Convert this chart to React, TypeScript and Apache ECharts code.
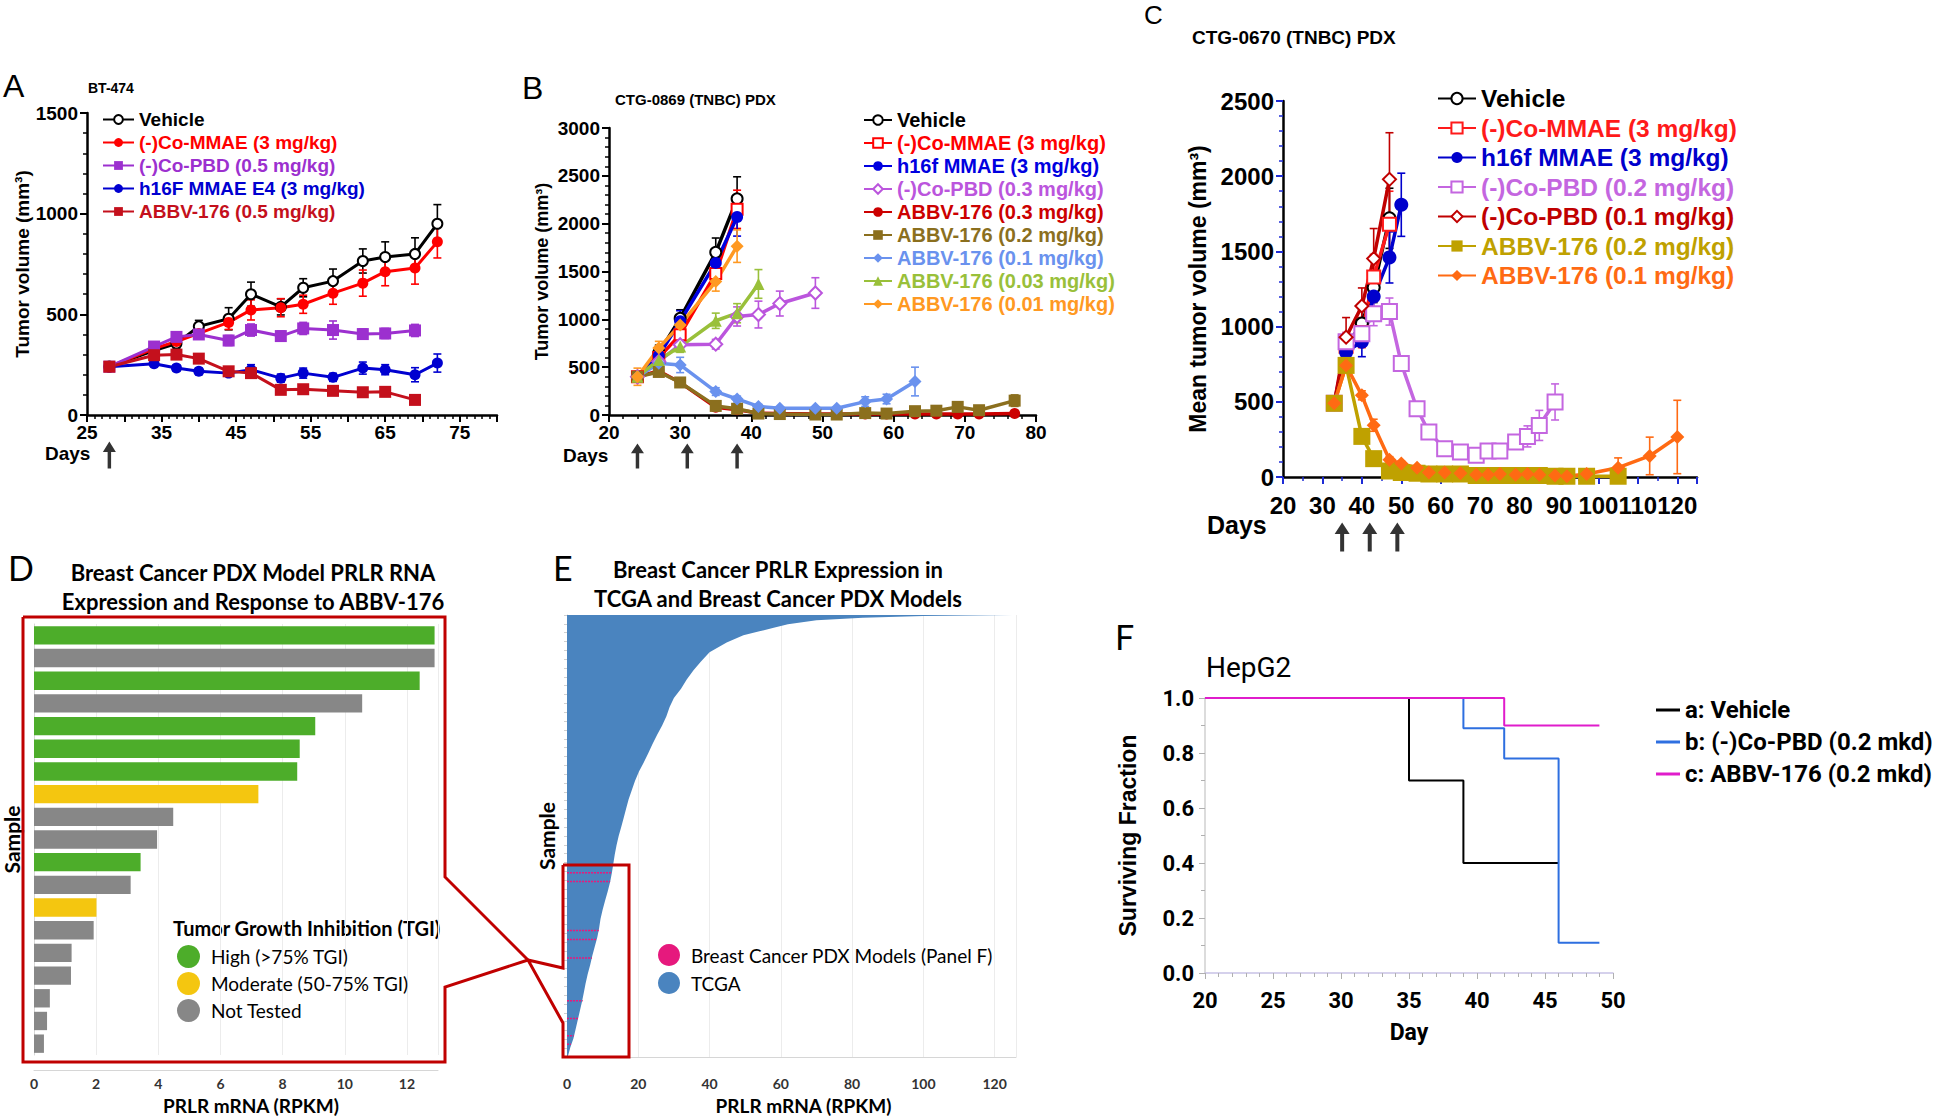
import React, { useEffect, useRef } from "react";
import * as echarts from "echarts";

const ARIAL = '"Liberation Sans", Arial, Helvetica, sans-serif';
const CALIBRI = 'Lato, "Open Sans", sans-serif';
const SEGOE = 'Roboto, "Noto Sans", sans-serif';

// ---------------- Panel A : BT-474 ----------------
const aDays = [28, 34, 37, 40, 44, 47, 51, 54, 58, 62, 65, 69, 72];
const aVehicle = [240, 320, 355, 440, 478, 600, 537, 632, 665, 765, 785, 800, 950];
const aVehicleErr = [10, 20, 25, 30, 55, 60, 40, 45, 60, 60, 75, 80, 95];
const aCoMMAE = [240, 330, 365, 405, 460, 522, 533, 550, 605, 655, 712, 730, 860];
const aCoMMAEErr = [10, 15, 20, 25, 35, 50, 45, 45, 55, 65, 70, 80, 80];
const aCoPBD = [240, 340, 388, 400, 370, 422, 392, 430, 422, 402, 405, 420];
const aCoPBDErr = [10, 15, 25, 20, 25, 30, 25, 30, 45, 25, 25, 30];
const aH16F = [240, 255, 233, 217, 208, 225, 183, 208, 187, 233, 225, 200, 258];
const aH16FErr = [10, 10, 15, 15, 15, 25, 20, 25, 20, 30, 25, 35, 45];
const aABBV = [240, 297, 300, 280, 217, 208, 125, 128, 120, 113, 115, 75];
const aABBVErr = [10, 15, 20, 20, 20, 20, 15, 15, 10, 10, 10, 10];
const aDoseDays = [28];

// ---------------- Panel B : CTG-0869 ----------------
const bDays = [24, 27, 30, 35, 38, 41, 44, 49, 52, 56, 59, 63, 66, 69, 72, 77];
const bVehicle = [400, 650, 1010, 1700, 2260];
const bVehicleErr = [50, 80, 90, 150, 230];
const bCoMMAE = [400, 600, 840, 1480, 2150];
const bCoMMAEErr = [50, 60, 70, 100, 200];
const bH16f = [400, 620, 980, 1590, 2070];
const bH16fErr = [50, 60, 110, 120, 200];
const bCoPBD = [400, 560, 735, 740, 1030, 1050, 1165, 1275];
const bCoPBDErr = [50, 50, 40, 50, 100, 140, 130, 160];
const bA03 = [400, 460, 340, 80, 55, 20, 15, 10, 10, 10, 10, 10, 10, 10, 10, 15];
const bA03Err = [50, 30, 30, 20, 15, 10, 10, 5, 5, 5, 5, 5, 5, 5, 5, 10];
const bA02 = [400, 450, 340, 95, 65, 15, 10, 5, 5, 20, 15, 40, 45, 85, 50, 150];
const bA02Err = [50, 30, 30, 20, 15, 10, 10, 5, 5, 10, 10, 20, 20, 30, 20, 60];
const bA01 = [400, 540, 523, 245, 167, 90, 70, 70, 70, 140, 167, 350];
const bA01Err = [50, 60, 80, 40, 30, 20, 15, 15, 15, 50, 50, 150];
const bA003 = [400, 575, 715, 985, 1064, 1370];
const bA003Err = [50, 60, 60, 80, 100, 150];
const bA001 = [400, 700, 942, 1395, 1765];
const bA001Err = [90, 70, 80, 100, 170];
const bDoseDays = [24, 31, 38];

// ---------------- Panel C : CTG-0670 ----------------
const cDays = [33, 36, 40, 43, 47, 50, 54, 57, 61, 65, 69, 72, 75, 79, 82, 85, 89, 92, 97, 105, 113, 120];
const cVehicle = [490, 870, 1020, 1260, 1720];
const cVehicleErr = [30, 80, 90, 100, 200];
const cCoMMAE = [490, 870, 960, 1330, 1680];
const cCoMMAEErr = [30, 90, 100, 150, 220];
const cH16f = [490, 830, 900, 1200, 1460, 1810];
const cH16fErr = [30, 60, 100, 100, 170, 210];
const cCoPBD02 = [490, 900, 953, 1086, 1100, 754, 454, 299, 188, 166, 144, 173, 173, 233, 270, 343, 499];
const cCoPBD02Err = [30, 60, 60, 80, 90, 50, 40, 30, 20, 15, 20, 20, 20, 40, 70, 100, 120];
const cCoPBD01 = [490, 930, 1137, 1452, 1979];
const cCoPBD01Err = [30, 130, 120, 200, 310];
const cA02 = [490, 742, 270, 122, 40, 30, 25, 20, 20, 20, 10, 10, 10, 10, 10, 10, 5, 5, 5, 5];
const cA02Err = [30, 30, 20, 15, 10, 5, 5, 5, 5, 5, 5, 5, 5, 5, 5, 5, 5, 5, 5, 5];
const cA01 = [490, 742, 543, 344, 115, 89, 62, 30, 30, 25, 15, 15, 20, 15, 20, 15, 10, 5, 20, 62, 140, 266];
const cA01Err = [30, 30, 30, 40, 20, 15, 10, 10, 10, 10, 5, 5, 5, 5, 5, 5, 5, 5, 10, 65, 125, 244];
const cDoseDays = [35, 42, 49];

// ---------------- Panel D : PDX PRLR RNA ----------------
const dSamples = ["S1", "S2", "S3", "S4", "S5", "S6", "S7", "S8", "S9", "S10", "S11", "S12", "S13", "S14", "S15", "S16", "S17", "S18", "S19"];
const dValues = [12.89, 12.89, 12.41, 10.56, 9.05, 8.55, 8.47, 7.22, 4.48, 3.96, 3.43, 3.11, 2.01, 1.92, 1.21, 1.19, 0.51, 0.42, 0.32];
const dTGI = ["High", "Not Tested", "High", "Not Tested", "High", "High", "High", "Moderate", "Not Tested", "Not Tested", "High", "Not Tested", "Moderate", "Not Tested", "Not Tested", "Not Tested", "Not Tested", "Not Tested", "Not Tested"];
const dGroups = ["High", "Moderate", "Not Tested"];
const dGroupLabels = ["High (>75% TGI)", "Moderate (50-75% TGI)", "Not Tested"];
const dGroupColors = ["#4DAD2A", "#F4C610", "#878787"];

// ---------------- Panel E : TCGA distribution (sample rank % from bottom, PRLR value) ----------------
const eRank = [0, 2.1, 4.2, 6.2, 8.3, 10.4, 12.5, 14.5, 16.6, 18.7, 20.8, 22.9, 25.0, 27.1, 29.1, 31.2, 33.3, 35.4, 37.4, 39.6, 41.7, 43.7, 45.8, 47.9, 50.0, 52.0, 54.1, 56.2, 58.3, 60.4, 62.5, 64.6, 66.6, 68.7, 70.8, 72.9, 75.0, 77.1, 79.2, 81.2, 83.3, 85.4, 87.5, 89.5, 91.6, 93.8, 95.4, 96.3, 97.1, 97.9, 98.8, 99.4, 99.75, 100];
const eValue = [0.2, 0.9, 1.8, 2.4, 3.0, 3.6, 4.2, 4.7, 5.2, 5.8, 6.5, 7.1, 7.8, 8.5, 9.0, 9.4, 10.0, 10.7, 11.4, 12.1, 12.6, 13.0, 13.4, 13.9, 14.5, 15.2, 15.9, 16.6, 17.3, 18.2, 19.1, 20.2, 21.5, 22.8, 24.0, 25.3, 26.7, 27.9, 28.8, 30.0, 32.0, 33.6, 35.5, 37.6, 40.0, 44.8, 49.5, 54.0, 58.0, 62.0, 70.0, 83.0, 100.0, 125.0];
const ePdxRank = [41.7, 39.7, 28.6, 26.6, 22.4, 12.7, 8.7, 4.8, 2.9];
const ePdxValue = [12.6, 12.1, 8.9, 8.4, 7.0, 4.4, 3.1, 1.9, 1.1];

// ---------------- Panel F : HepG2 survival ----------------
const fVehicleDays = [20, 35, 39, 46];
const fVehicle = [1, 0.7, 0.4, 0.4];
const fCoPBDDays = [20, 39, 42, 46, 49];
const fCoPBD = [1, 0.89, 0.78, 0.11, 0.11];
const fABBVDays = [20, 42, 49];
const fABBV = [1, 0.9, 0.9];

const ARROW = "path://M6,0 L12,11 L7.6,11 L7.6,28 L4.4,28 L4.4,11 L0,11 Z";

type Spec = { label: string; x: number[]; y: number[]; e: number[]; color: string; symbol: string; size: number };

const aSpecs: Spec[] = [
  { label: "Vehicle", x: aDays, y: aVehicle, e: aVehicleErr, color: "#000000", symbol: "emptyCircle", size: 10 },
  { label: "(-)Co-MMAE (3 mg/kg)", x: aDays, y: aCoMMAE, e: aCoMMAEErr, color: "#FF0000", symbol: "circle", size: 11 },
  { label: "(-)Co-PBD (0.5 mg/kg)", x: aDays, y: aCoPBD, e: aCoPBDErr, color: "#9C30CF", symbol: "rect", size: 12 },
  { label: "h16F MMAE E4 (3 mg/kg)", x: aDays, y: aH16F, e: aH16FErr, color: "#0000D0", symbol: "circle", size: 11 },
  { label: "ABBV-176 (0.5 mg/kg)", x: aDays, y: aABBV, e: aABBVErr, color: "#C4101C", symbol: "rect", size: 12 },
];
const bSpecs: Spec[] = [
  { label: "Vehicle", x: bDays, y: bVehicle, e: bVehicleErr, color: "#000000", symbol: "emptyCircle", size: 11 },
  { label: "(-)Co-MMAE (3 mg/kg)", x: bDays, y: bCoMMAE, e: bCoMMAEErr, color: "#FF0000", symbol: "emptyRect", size: 11 },
  { label: "h16f MMAE (3 mg/kg)", x: bDays, y: bH16f, e: bH16fErr, color: "#0000E0", symbol: "circle", size: 12 },
  { label: "(-)Co-PBD (0.3 mg/kg)", x: bDays, y: bCoPBD, e: bCoPBDErr, color: "#BB55DD", symbol: "emptyDiamond", size: 13 },
  { label: "ABBV-176 (0.3 mg/kg)", x: bDays, y: bA03, e: bA03Err, color: "#CC0000", symbol: "circle", size: 11 },
  { label: "ABBV-176 (0.2 mg/kg)", x: bDays, y: bA02, e: bA02Err, color: "#8B6F1E", symbol: "rect", size: 12 },
  { label: "ABBV-176 (0.1 mg/kg)", x: bDays, y: bA01, e: bA01Err, color: "#6A92EE", symbol: "diamond", size: 13 },
  { label: "ABBV-176 (0.03 mg/kg)", x: bDays, y: bA003, e: bA003Err, color: "#99C03A", symbol: "triangle", size: 12 },
  { label: "ABBV-176 (0.01 mg/kg)", x: bDays, y: bA001, e: bA001Err, color: "#FF9922", symbol: "diamond", size: 13 },
];
const cSpecs: Spec[] = [
  { label: "Vehicle", x: cDays, y: cVehicle, e: cVehicleErr, color: "#000000", symbol: "emptyCircle", size: 12 },
  { label: "(-)Co-MMAE (3 mg/kg)", x: cDays, y: cCoMMAE, e: cCoMMAEErr, color: "#FF1A1A", symbol: "emptyRect", size: 13 },
  { label: "h16f MMAE (3 mg/kg)", x: cDays, y: cH16f, e: cH16fErr, color: "#0000CC", symbol: "circle", size: 14 },
  { label: "(-)Co-PBD (0.2 mg/kg)", x: cDays, y: cCoPBD02, e: cCoPBD02Err, color: "#C466E0", symbol: "emptyRect", size: 15 },
  { label: "(-)Co-PBD (0.1 mg/kg)", x: cDays, y: cCoPBD01, e: cCoPBD01Err, color: "#C00000", symbol: "emptyDiamond", size: 13 },
  { label: "ABBV-176 (0.2 mg/kg)", x: cDays, y: cA02, e: cA02Err, color: "#BFA100", symbol: "rect", size: 17 },
  { label: "ABBV-176 (0.1 mg/kg)", x: cDays, y: cA01, e: cA01Err, color: "#FF6A13", symbol: "diamond", size: 14 },
];

const strip = (n: string) => (n.indexOf("|") >= 0 ? n.split("|")[1] : n);
const plain = (v: number) => String(v);

function curveSeries(panel: string, s: Spec, idx: number, lw: number) {
  return {
    type: "line",
    name: panel + "|" + s.label,
    xAxisIndex: idx,
    yAxisIndex: idx,
    data: s.y.map((v, i) => [s.x[i], v]),
    symbol: s.symbol,
    symbolSize: s.size,
    showAllSymbol: true,
    lineStyle: { color: s.color, width: lw },
    itemStyle: { color: s.color, borderColor: s.color, borderWidth: s.symbol.indexOf("empty") === 0 ? 2 : 0 },
    z: 3,
    silent: true,
  };
}

function errSeries(s: Spec, idx: number, cap: number) {
  return {
    type: "custom",
    xAxisIndex: idx,
    yAxisIndex: idx,
    silent: true,
    z: 2,
    encode: { x: 0, y: 1 },
    data: s.y.map((v, i) => [s.x[i], v, s.e[i]]),
    renderItem: (_p: any, api: any) => {
      const x = api.value(0);
      const y = api.value(1);
      const e = api.value(2);
      const p1 = api.coord([x, y + e]);
      const p2 = api.coord([x, Math.max(0, y - e)]);
      const st = { stroke: s.color, lineWidth: 1.6 };
      return {
        type: "group",
        children: [
          { type: "line", shape: { x1: p1[0], y1: p1[1], x2: p2[0], y2: p2[1] }, style: st },
          { type: "line", shape: { x1: p1[0] - cap, y1: p1[1], x2: p1[0] + cap, y2: p1[1] }, style: st },
          { type: "line", shape: { x1: p2[0] - cap, y1: p2[1], x2: p2[0] + cap, y2: p2[1] }, style: st },
        ],
      };
    },
  };
}

function arrowSeries(days: number[], idx: number, size: number[], offset: number) {
  return {
    type: "scatter",
    xAxisIndex: idx,
    yAxisIndex: idx,
    data: days.map((d) => [d, 0]),
    symbol: ARROW,
    symbolSize: size,
    symbolOffset: [0, offset],
    itemStyle: { color: "#000" },
    clip: false,
    silent: true,
    z: 10,
  };
}

function gpX(gridIndex: number, min: number, max: number, interval: number, minor: number, fs: number, margin: number, fmt: any, tickColor = "#000") {
  return {
    gridIndex,
    type: "value",
    min,
    max,
    interval,
    axisLine: { show: true, onZero: false, lineStyle: { color: "#000", width: 2.5 } },
    axisTick: { show: true, length: 7, lineStyle: { color: tickColor, width: 2 } },
    minorTick: { show: true, splitNumber: minor, length: 4, lineStyle: { color: tickColor, width: 1.5 } },
    splitLine: { show: false },
    axisLabel: { fontSize: fs, fontWeight: "bold", fontFamily: ARIAL, color: "#000", margin, formatter: fmt },
  };
}

function gpY(gridIndex: number, max: number, interval: number, fs: number, name: string, nameFs: number, nameGap: number, tickColor = "#000") {
  return {
    gridIndex,
    type: "value",
    min: 0,
    max,
    interval,
    name,
    nameLocation: "middle",
    nameRotate: 90,
    nameGap,
    nameTextStyle: { fontSize: nameFs, fontWeight: "bold", fontFamily: ARIAL, color: "#000" },
    axisLine: { show: true, onZero: false, lineStyle: { color: "#000", width: 2.5 } },
    axisTick: { show: true, length: 7, lineStyle: { color: tickColor, width: 2 } },
    minorTick: { show: true, splitNumber: 5, length: 4, lineStyle: { color: tickColor, width: 1.5 } },
    splitLine: { show: false },
    axisLabel: { fontSize: fs, fontWeight: "bold", fontFamily: ARIAL, color: "#000", margin: 9, formatter: plain },
  };
}

function txt(text: string, x: number, y: number, size: number, weight: string, family: string, align = "left", color = "#000") {
  return {
    type: "text",
    x,
    y,
    silent: true,
    style: { text, fontSize: size, fontWeight: weight, fontFamily: family, fill: color, align, verticalAlign: "middle" },
  };
}

function gpLegend(panel: string, specs: Spec[], left: number, top: number, fs: number, gap: number, iw: number, ih: number) {
  return {
    orient: "vertical",
    left,
    top,
    padding: 0,
    itemGap: gap,
    itemWidth: iw,
    itemHeight: ih,
    selectedMode: false,
    formatter: strip,
    textStyle: { fontSize: fs, fontWeight: "bold", fontFamily: ARIAL },
    data: specs.map((s) => ({ name: panel + "|" + s.label, textStyle: { color: s.color } })),
  };
}

function buildOption() {
  const series: any[] = [];
  aSpecs.forEach((s) => series.push(errSeries(s, 0, 4)));
  aSpecs.forEach((s) => series.push(curveSeries("A", s, 0, 3)));
  series.push(arrowSeries(aDoseDays, 0, [13, 27], 40));
  bSpecs.forEach((s) => series.push(errSeries(s, 1, 4)));
  bSpecs.forEach((s) => series.push(curveSeries("B", s, 1, 3.5)));
  series.push(arrowSeries(bDoseDays, 1, [13, 25], 41));
  cSpecs.forEach((s) => series.push(errSeries(s, 2, 4)));
  cSpecs.forEach((s) => series.push(curveSeries("C", s, 2, 3.5)));
  series.push(arrowSeries(cDoseDays, 2, [15, 29], 60));

  // Panel D bars
  dGroups.forEach((g, gi) => {
    series.push({
      type: "bar",
      name: dGroupLabels[gi],
      xAxisIndex: 3,
      yAxisIndex: 3,
      data: dValues.map((v, i) => (dTGI[i] === g ? v : "-")),
      barGap: "-100%",
      barCategoryGap: "19%",
      itemStyle: { color: dGroupColors[gi] },
      silent: true,
    });
  });

  // Panel E: sorted TCGA distribution as filled polygon
  series.push({
    type: "custom",
    name: "TCGA",
    xAxisIndex: 4,
    yAxisIndex: 4,
    silent: true,
    z: 2,
    encode: { x: 0, y: 1 },
    itemStyle: { color: "#4A84BF" },
    data: eRank.map((r, i) => [eValue[i], r]),
    renderItem: (params: any, api: any) => {
      if (params.dataIndex !== 0) return null;
      const pts: number[][] = [api.coord([0, eRank[0]])];
      eRank.forEach((r, i) => pts.push(api.coord([eValue[i], r])));
      pts.push(api.coord([0, eRank[eRank.length - 1]]));
      return { type: "polygon", shape: { points: pts }, style: { fill: "#4A84BF" } };
    },
  });
  series.push({
    type: "custom",
    name: "Breast Cancer PDX Models (Panel F)",
    xAxisIndex: 4,
    yAxisIndex: 4,
    silent: true,
    z: 3,
    encode: { x: 0, y: 1 },
    itemStyle: { color: "#E6197D" },
    data: ePdxRank.map((r, i) => [ePdxValue[i], r]),
    renderItem: (_p: any, api: any) => {
      const p1 = api.coord([0, api.value(1)]);
      const p2 = api.coord([api.value(0), api.value(1)]);
      return {
        type: "line",
        shape: { x1: p1[0], y1: p1[1], x2: p2[0], y2: p2[1] },
        style: { stroke: "#E6197D", lineWidth: 1.5, lineDash: [2, 1] },
      };
    },
  });

  // Panel F
  const fSpecs = [
    { name: "a: Vehicle", x: fVehicleDays, y: fVehicle, color: "#000000" },
    { name: "b: (-)Co-PBD (0.2 mkd)", x: fCoPBDDays, y: fCoPBD, color: "#2E6FE0" },
    { name: "c: ABBV-176 (0.2 mkd)", x: fABBVDays, y: fABBV, color: "#E01CCB" },
  ];
  fSpecs.forEach((s) =>
    series.push({
      type: "line",
      name: s.name,
      xAxisIndex: 5,
      yAxisIndex: 5,
      step: "end",
      data: s.y.map((v, i) => [s.x[i], v]),
      symbol: "none",
      lineStyle: { color: s.color, width: 2 },
      itemStyle: { color: s.color },
      silent: true,
    })
  );

  const lightAxis = { show: true, lineStyle: { color: "#d6d6d6", width: 1 } };

  return {
    animation: false,
    backgroundColor: "#ffffff",
    grid: [
      { left: 87, top: 113, width: 410, height: 302 },
      { left: 609, top: 128, width: 427, height: 287 },
      { left: 1283, top: 101, width: 414, height: 376 },
      { left: 32, top: 624, width: 406, height: 432 },
      { left: 567, top: 615, width: 449, height: 443 },
      { left: 1205, top: 698, width: 408, height: 275 },
    ],
    xAxis: [
      gpX(0, 25, 80, 5, 5, 19, 8, (v: number) => ((v - 25) % 10 === 0 && v <= 75 ? String(v) : "")),
      gpX(1, 20, 80, 10, 5, 19, 8, plain),
      gpX(2, 20, 125, 10, 2, 24, 16, (v: number) => (v <= 120 ? String(v) : ""), "#1E2CD6"),
      {
        gridIndex: 3,
        type: "value",
        min: 0,
        max: 13,
        interval: 2,
        offset: 15,
        name: "PRLR mRNA (RPKM)",
        nameLocation: "middle",
        nameGap: 26,
        nameTextStyle: { fontSize: 19, fontWeight: "bold", fontFamily: CALIBRI, color: "#000", padding: [0, 0, 0, 30] },
        axisLine: lightAxis,
        axisTick: { show: false },
        splitLine: { show: true, lineStyle: { color: "#ececec" } },
        axisLabel: { fontSize: 14, fontWeight: "bold", fontFamily: CALIBRI, color: "#333", margin: 6, formatter: (v: number) => (v % 2 === 0 ? String(v) : "") },
      },
      {
        gridIndex: 4,
        type: "value",
        min: 0,
        max: 126,
        interval: 20,
        offset: 13,
        name: "PRLR mRNA (RPKM)",
        nameLocation: "middle",
        nameGap: 26,
        nameTextStyle: { fontSize: 19, fontWeight: "bold", fontFamily: CALIBRI, color: "#000", padding: [0, 0, 0, 24] },
        axisLine: lightAxis,
        axisTick: { show: false },
        splitLine: { show: true, lineStyle: { color: "#ececec" } },
        axisLabel: { fontSize: 14, fontWeight: "bold", fontFamily: CALIBRI, color: "#333", margin: 6, formatter: (v: number) => (v % 20 === 0 ? String(v) : "") },
      },
      {
        gridIndex: 5,
        type: "value",
        min: 20,
        max: 50,
        interval: 5,
        name: "Day",
        nameLocation: "middle",
        nameGap: 48,
        nameTextStyle: { fontSize: 23, fontWeight: "bold", fontFamily: SEGOE, color: "#000" },
        axisLine: { show: true, onZero: false, lineStyle: { color: "#c8c2e6", width: 1.5 } },
        axisTick: { show: true, length: 6, lineStyle: { color: "#b0b0b0" } },
        minorTick: { show: true, splitNumber: 5, length: 4, lineStyle: { color: "#b0b0b0" } },
        splitLine: { show: false },
        axisLabel: { fontSize: 22, fontWeight: "bold", fontFamily: SEGOE, color: "#000", margin: 16 },
      },
    ],
    yAxis: [
      gpY(0, 1500, 500, 19, "Tumor volume (mm³)", 19, 44),
      gpY(1, 3000, 500, 19, "Tumor volume (mm³)", 18, 58),
      gpY(2, 2500, 500, 24, "Mean tumor volume (mm³)", 23, 74, "#1E2CD6"),
      {
        gridIndex: 3,
        type: "category",
        inverse: true,
        data: dSamples,
        name: "Sample",
        nameLocation: "middle",
        nameRotate: 90,
        nameGap: 12,
        nameTextStyle: { fontSize: 21, fontWeight: "bold", fontFamily: CALIBRI, color: "#000" },
        axisLine: lightAxis,
        axisTick: { show: false },
        axisLabel: { show: false },
      },
      {
        gridIndex: 4,
        type: "value",
        min: 0,
        max: 100,
        interval: 2,
        name: "Sample",
        nameLocation: "middle",
        nameRotate: 90,
        nameGap: 10,
        nameTextStyle: { fontSize: 21, fontWeight: "bold", fontFamily: CALIBRI, color: "#000" },
        axisLine: lightAxis,
        axisTick: { show: true, length: 3, lineStyle: { color: "#d0d0d0" } },
        splitLine: { show: false },
        axisLabel: { show: false },
      },
      {
        gridIndex: 5,
        type: "value",
        min: 0,
        max: 1,
        interval: 0.2,
        name: "Surviving Fraction",
        nameLocation: "middle",
        nameRotate: 90,
        nameGap: 66,
        nameTextStyle: { fontSize: 23, fontWeight: "bold", fontFamily: ARIAL, color: "#000" },
        axisLine: { show: true, onZero: false, lineStyle: { color: "#d0d0d0", width: 1.5 } },
        axisTick: { show: true, length: 6, lineStyle: { color: "#b0b0b0" } },
        minorTick: { show: true, splitNumber: 2, length: 4, lineStyle: { color: "#b0b0b0" } },
        splitLine: { show: false },
        axisLabel: { fontSize: 22, fontWeight: "bold", fontFamily: SEGOE, color: "#000", margin: 11, formatter: (v: number) => v.toFixed(1) },
      },
    ],
    legend: [
      gpLegend("A", aSpecs, 102, 110, 19, 4, 31, 11),
      gpLegend("B", bSpecs, 863, 110, 20, 3, 28, 12),
      gpLegend("C", cSpecs, 1437, 86, 24.5, 4.5, 38, 14),
      {
        orient: "vertical",
        left: 177,
        top: 945,
        padding: 0,
        itemGap: 4,
        itemWidth: 23,
        itemHeight: 23,
        selectedMode: false,
        icon: "circle",
        textStyle: { fontSize: 19, fontFamily: CALIBRI, color: "#000", padding: [0, 0, 0, 6] },
        data: dGroupLabels,
      },
      {
        orient: "vertical",
        left: 658,
        top: 944,
        padding: 0,
        itemGap: 6,
        itemWidth: 22,
        itemHeight: 22,
        selectedMode: false,
        icon: "circle",
        textStyle: { fontSize: 19, fontFamily: CALIBRI, color: "#000", padding: [0, 0, 0, 6] },
        data: ["Breast Cancer PDX Models (Panel F)", "TCGA"],
      },
      {
        orient: "vertical",
        left: 1656,
        top: 698,
        padding: 0,
        itemGap: 8,
        itemWidth: 24,
        itemHeight: 3,
        icon: "rect",
        selectedMode: false,
        textStyle: { fontSize: 24, fontWeight: "bold", fontFamily: SEGOE, color: "#000" },
        data: ["a: Vehicle", "b: (-)Co-PBD (0.2 mkd)", "c: ABBV-176 (0.2 mkd)"],
      },
    ],
    graphic: [
      txt("A", 3, 86, 32, "normal", ARIAL),
      txt("BT-474", 88, 88, 14, "bold", ARIAL),
      txt("Days", 45, 453, 19, "bold", ARIAL),
      txt("B", 522, 88, 32, "normal", ARIAL),
      txt("CTG-0869 (TNBC) PDX", 615, 99, 15, "bold", ARIAL),
      txt("Days", 563, 455, 19, "bold", ARIAL),
      txt("C", 1144, 15, 26, "normal", ARIAL),
      txt("CTG-0670 (TNBC) PDX", 1192, 37, 19, "bold", ARIAL),
      txt("Days", 1207, 525, 25, "bold", ARIAL),
      txt("D", 8, 567, 34, "normal", CALIBRI),
      txt("Breast Cancer PDX Model PRLR RNA", 253, 572, 22, "bold", CALIBRI, "center"),
      txt("Expression and Response to ABBV-176", 253, 601, 22, "bold", CALIBRI, "center"),
      txt("Tumor Growth Inhibition (TGI)", 173, 928, 20, "bold", CALIBRI),
      txt("E", 553, 567, 34, "normal", CALIBRI),
      txt("Breast Cancer PRLR Expression in", 778, 569, 22, "bold", CALIBRI, "center"),
      txt("TCGA and Breast Cancer PDX Models", 778, 598, 22, "bold", CALIBRI, "center"),
      txt("F", 1115, 636, 34, "normal", CALIBRI),
      txt("HepG2", 1206, 667, 28, "normal", SEGOE),
      {
        type: "polyline",
        silent: true,
        z: 20,
        shape: { points: [[23, 617], [445, 617], [445, 877], [528, 960], [445, 987], [445, 1062], [23, 1062], [23, 617]] },
        style: { stroke: "#C00000", lineWidth: 3, fill: "none" },
      },
      {
        type: "polyline",
        silent: true,
        z: 20,
        shape: { points: [[563, 865], [629, 865], [629, 1057], [563, 1057], [563, 1023], [528, 960], [563, 968], [563, 865]] },
        style: { stroke: "#C00000", lineWidth: 3, fill: "none" },
      },
    ],
    series,
  };
}

export default function App() {
  const ref = useRef<HTMLDivElement>(null);
  useEffect(() => {
    const chart = echarts.init(ref.current as HTMLDivElement, null, { renderer: "svg" });
    chart.setOption(buildOption() as any);
    return () => chart.dispose();
  }, []);
  return (
    <div
      ref={ref}
      style={{ position: "fixed", left: 0, top: 0, width: 1946, height: 1116, background: "#fff" }}
    />
  );
}
